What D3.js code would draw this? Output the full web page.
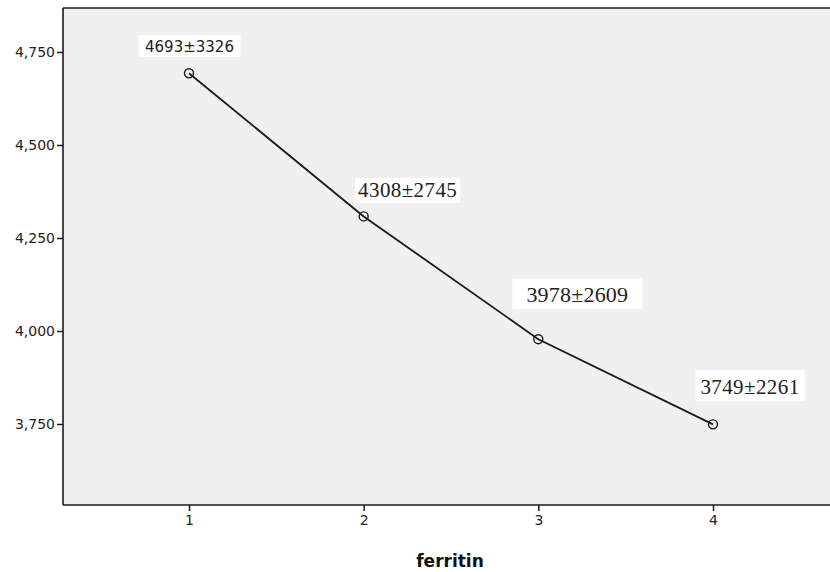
<!DOCTYPE html>
<html>
<head>
<meta charset="utf-8">
<script src="https://cdn.jsdelivr.net/npm/d3@7"></script>
<style>
  html, body { margin: 0; padding: 0; background: #ffffff; }
  svg { display: block; }
</style>
</head>
<body>
<svg id="chart" width="830" height="572"></svg>
<script>
// ---- data ----
const categories = [1, 2, 3, 4];
const means = [4693, 4308, 3978, 3749];
const sds = [3326, 2745, 2609, 2261];
const yTicks = [3750, 4000, 4250, 4500, 4750];
const xLabel = "ferritin";

// ---- layout (label placement relative to each point) ----
const labelLayout = [
  { dx: 0.5, dy: -21, font: "'DejaVu Sans', Verdana, sans-serif", size: 15, boxW: 102, boxH: 22, ls: 0 },
  { dx: 44, dy: -19, font: "'Liberation Serif', 'Times New Roman', serif", size: 21, boxW: 105, boxH: 25, ls: 0.4 },
  { dx: 39, dy: -37, font: "'Liberation Serif', 'Times New Roman', serif", size: 22, boxW: 130, boxH: 30, ls: 0.2 },
  { dx: 37, dy: -30, font: "'Liberation Serif', 'Times New Roman', serif", size: 21, boxW: 109, boxH: 31, ls: 0.4 }
];

const svg = d3.select("#chart");
const plot = { left: 63, top: 8, right: 839, bottom: 505 };

const x = d3.scaleLinear().domain([1, 4]).range([189, 713]);
const y = d3.scaleLinear().domain([3750, 4750]).range([424, 52]);

// plot background
svg.append("rect")
  .attr("x", plot.left).attr("y", plot.top)
  .attr("width", plot.right - plot.left).attr("height", plot.bottom - plot.top)
  .attr("fill", "#f0f0f0");

// frame lines
svg.append("line").attr("x1", plot.left).attr("x2", plot.right)
  .attr("y1", plot.top).attr("y2", plot.top)
  .attr("stroke", "#1a1a1a").attr("stroke-width", 1.6);

const tickFont = "'DejaVu Sans', Verdana, sans-serif";

// y axis
const yAxis = svg.append("g")
  .attr("transform", `translate(${plot.left},0)`)
  .call(d3.axisLeft(y).tickValues(yTicks).tickSize(6).tickPadding(2)
    .tickFormat(d3.format(",")));
yAxis.select(".domain").remove();
yAxis.append("line").attr("x1", 0).attr("x2", 0)
  .attr("y1", plot.top).attr("y2", plot.bottom)
  .attr("stroke", "#1a1a1a").attr("stroke-width", 1.6);
yAxis.selectAll(".tick line").attr("stroke", "#1a1a1a").attr("stroke-width", 1.5);
yAxis.selectAll(".tick text")
  .attr("font-family", tickFont)
  .attr("font-size", 14).attr("fill", "#222");

// x axis
const xAxis = svg.append("g")
  .attr("transform", `translate(0,${plot.bottom})`)
  .call(d3.axisBottom(x).tickValues(categories).tickSize(6).tickPadding(4)
    .tickFormat(d3.format("d")));
xAxis.select(".domain").remove();
xAxis.append("line").attr("x1", plot.left).attr("x2", plot.right)
  .attr("y1", 0).attr("y2", 0)
  .attr("stroke", "#1a1a1a").attr("stroke-width", 1.6);
xAxis.selectAll(".tick line").attr("stroke", "#1a1a1a").attr("stroke-width", 1.5);
xAxis.selectAll(".tick text")
  .attr("font-family", tickFont)
  .attr("font-size", 14).attr("fill", "#222");

// x axis title
svg.append("text")
  .attr("x", 450).attr("y", 567)
  .attr("text-anchor", "middle")
  .attr("font-family", tickFont)
  .attr("font-weight", "bold")
  .attr("font-size", 17)
  .attr("fill", "#111")
  .text(xLabel);

// line
const data = categories.map((c, i) => ({ c, m: means[i], s: sds[i], i }));
svg.append("path")
  .datum(data)
  .attr("fill", "none")
  .attr("stroke", "#1a1a1a")
  .attr("stroke-width", 1.8)
  .attr("d", d3.line().x(d => x(d.c)).y(d => y(d.m)));

// markers
svg.selectAll("circle.pt")
  .data(data)
  .join("circle")
  .attr("class", "pt")
  .attr("cx", d => x(d.c)).attr("cy", d => y(d.m))
  .attr("r", 4.5)
  .attr("fill", "none")
  .attr("stroke", "#1a1a1a")
  .attr("stroke-width", 1.4);

// labels
const lg = svg.selectAll("g.lbl")
  .data(data)
  .join("g")
  .attr("class", "lbl");
lg.append("rect")
  .attr("x", d => x(d.c) + labelLayout[d.i].dx - labelLayout[d.i].boxW / 2)
  .attr("y", d => y(d.m) + labelLayout[d.i].dy - labelLayout[d.i].boxH * 0.78)
  .attr("width", d => labelLayout[d.i].boxW)
  .attr("height", d => labelLayout[d.i].boxH)
  .attr("fill", "#ffffff");
lg.append("text")
  .attr("x", d => x(d.c) + labelLayout[d.i].dx)
  .attr("y", d => y(d.m) + labelLayout[d.i].dy)
  .attr("text-anchor", "middle")
  .attr("font-family", d => labelLayout[d.i].font)
  .attr("font-size", d => labelLayout[d.i].size)
  .attr("letter-spacing", d => labelLayout[d.i].ls)
  .attr("fill", "#222")
  .text(d => `${d.m}±${d.s}`);
</script>
</body>
</html>
